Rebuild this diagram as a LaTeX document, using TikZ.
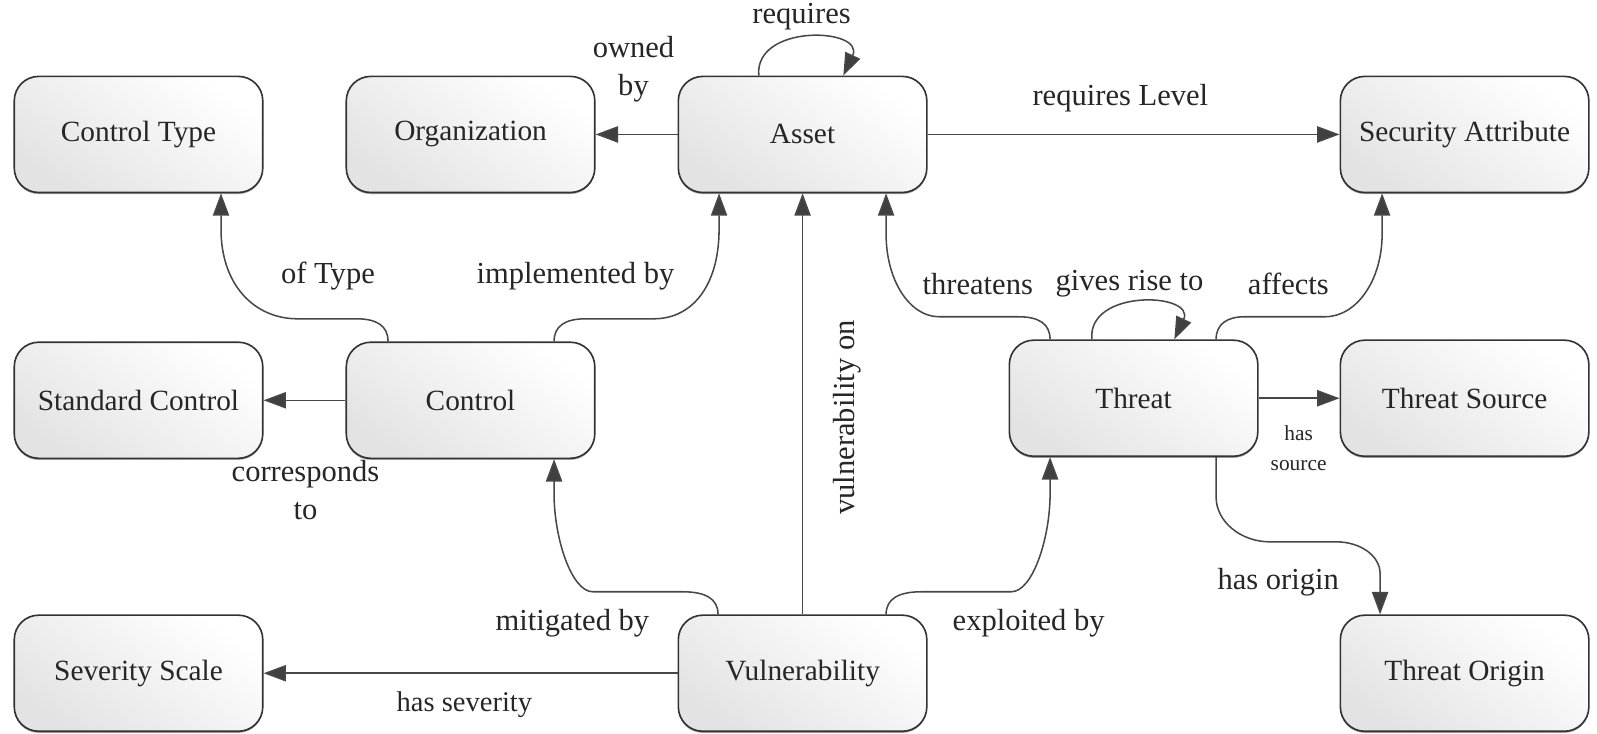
\documentclass[tikz,border=0pt]{standalone}
\usepackage{fontspec}
\setmainfont{Liberation Serif}
\usetikzlibrary{arrows.meta,calc,shadows}

\tikzset{
  concept/.style={draw=black!80, line width=0.8pt, rounded corners=12pt,
    minimum width=122pt, minimum height=57pt, inner sep=0pt,
    top color=white, bottom color=black!11, shading angle=-35,
    drop shadow={shadow xshift=0pt, shadow yshift=-0.8pt, fill=black, opacity=0.35},
    font=\fontsize{14.4}{17}\selectfont, text=black!85},
  rel/.style={draw=black!72, line width=0.75pt,
    -{Triangle[length=11pt,width=8pt,fill=black!75]}},
  lbl/.style={font=\fontsize{15}{19}\selectfont, text=black!85, align=center, inner sep=0pt},
  smalllbl/.style={lbl, font=\fontsize{10.5}{15}\selectfont},
}

\begin{document}
\begin{tikzpicture}[x=0.5pt,y=0.5pt]
\useasboundingbox (0,0) rectangle (1568,720);

% concepts
\node[concept] (ctype)   at (136,588) {Control Type};
\node[concept] (org)     at (462,588) {Organization};
\node[concept] (asset)   at (788,588) {Asset};
\node[concept] (secattr) at (1438,588) {Security Attribute};
\node[concept] (stdctrl) at (136,327) {Standard Control};
\node[concept] (control) at (462,327) {Control};
\node[concept] (threat)  at (1113,329) {Threat};
\node[concept] (tsource) at (1438,329) {Threat Source};
\node[concept] (sevscale) at (136,59) {Severity Scale};
\node[concept] (vuln)    at (788,59) {Vulnerability};
\node[concept] (torigin) at (1438,59) {Threat Origin};

% straight relations
\draw[rel] (asset.west) -- (org.east);
\draw[rel] (asset.east) -- (secattr.west);
\draw[rel] (control.west) -- (stdctrl.east);
\draw[rel] (vuln.west) -- (sevscale.east);
\draw[rel] (vuln.north) -- (asset.south);
\draw[rel] (threat.east) -- (tsource.west);

% curved relations: short bend at the lower box, wide bend at the upper one
\draw[rel] ($(control.north)+(-81,0)$) .. controls (381,400) and (370,407) .. (350,407)
  -- (292,407) .. controls (250,407) and (217,440) .. (217,495) -- ($(ctype.south)+(81,0)$);
\draw[rel] ($(control.north)+(82,0)$) .. controls (544,400) and (555,407) .. (575,407)
  -- (642,407) .. controls (680,407) and (706,440) .. (706,495) -- ($(asset.south)+(-82,0)$);
\draw[rel] ($(vuln.north)+(-83,0)$) .. controls (705,132) and (693,139) .. (670,139)
  -- (582,139) .. controls (561,139) and (544,192) .. (544,235) -- ($(control.south)+(82,0)$);
\draw[rel] ($(vuln.north)+(82,0)$) .. controls (870,132) and (882,139) .. (905,139)
  -- (993,139) .. controls (1014,139) and (1031,192) .. (1031,235) -- ($(threat.south)+(-82,0)$);
\draw[rel] ($(threat.north)+(-82,0)$) .. controls (1031,402) and (1020,409) .. (1000,409)
  -- (922,409) .. controls (893,409) and (870,445) .. (870,490) -- ($(asset.south)+(82,0)$);
\draw[rel] ($(threat.north)+(81,0)$) .. controls (1194,402) and (1205,409) .. (1222,409)
  -- (1301,409) .. controls (1332,409) and (1357,445) .. (1357,490) -- ($(secattr.south)+(-81,0)$);
\draw[rel] ($(threat.south)+(81,0)$) -- (1194,232) .. controls (1194,208) and (1218,188) .. (1247,188)
  -- (1312,188) .. controls (1336,188) and (1355,174) .. (1355,157) -- ($(torigin.north)+(-83,0)$);

% self relations
\draw[rel] ($(asset.north)+(-43,0)$) to[out=95,in=65,looseness=1.6] ($(asset.north)+(40,0)$);
\draw[rel] ($(threat.north)+(-41,0)$) to[out=95,in=65,looseness=1.6] ($(threat.north)+(40,0)$);

% relation labels
\node[lbl] (l-owned)  at (622,652) {owned\\by};
\node[lbl] (l-req)    at (787,704) {requires};
\node[lbl] (l-reqlvl) at (1100,624) {requires Level};
\node[lbl] (l-type)   at (322,449) {of Type};
\node[lbl] (l-impl)   at (565,449) {implemented by};
\node[lbl] (l-corr)   at (300,239) {corresponds\\to};
\node[lbl] (l-mit)    at (562,108) {mitigated by};
\node[lbl, rotate=90] (l-vulon) at (832,310) {vulnerability on};
\node[lbl] (l-expl)   at (1010,108) {exploited by};
\node[lbl, font=\fontsize{14}{17}\selectfont] (l-sev) at (456,28) {has severity};
\node[lbl] (l-thr)    at (960,441) {threatens};
\node[lbl] (l-gives)  at (1109,441) {gives rise to};
\node[lbl] (l-aff)    at (1265,441) {affects};
\node[smalllbl] (l-src) at (1275,280) {has\\source};
\node[lbl] (l-orig)   at (1255,148) {has origin};
\end{tikzpicture}
\end{document}
